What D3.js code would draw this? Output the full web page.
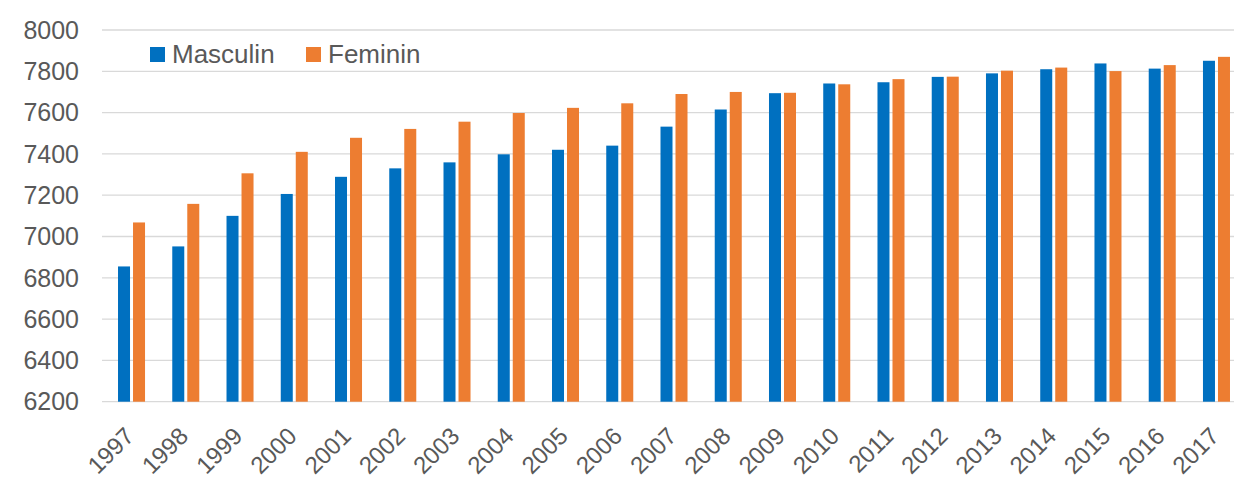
<!DOCTYPE html>
<html>
<head>
<meta charset="utf-8">
<script src="https://cdn.jsdelivr.net/npm/d3@7"></script>
<style>
  html, body { margin: 0; padding: 0; background: #fff; }
  svg { display: block; }
  text { font-family: "Liberation Sans", Arial, sans-serif; fill: #595959; }
</style>
</head>
<body>
<svg id="chart" width="1234" height="480"></svg>
<script>
const years = ["1997","1998","1999","2000","2001","2002","2003","2004","2005","2006","2007","2008","2009","2010","2011","2012","2013","2014","2015","2016","2017"];
const masculin = [6855, 6952, 7100, 7206, 7289, 7330, 7359, 7398, 7420, 7440, 7532, 7615, 7694, 7741, 7747, 7773, 7790, 7810, 7838, 7813, 7851];
const feminin  = [7068, 7158, 7306, 7410, 7478, 7521, 7556, 7598, 7623, 7645, 7690, 7700, 7696, 7737, 7762, 7774, 7803, 7818, 7801, 7830, 7870];
const seriesNames = ["Masculin", "Feminin"];
const seriesColors = ["#0070C0", "#ED7D31"];
const yTicks = [6200, 6400, 6600, 6800, 7000, 7200, 7400, 7600, 7800, 8000];

const svg = d3.select("#chart");
const plotLeft = 104.4, plotRight = 1243.6, plotTop = 30, plotBottom = 401.7;

const x0 = d3.scaleBand().domain(years).range([plotLeft, plotRight])
  .paddingInner(0.502).paddingOuter(0.251);
const x1 = d3.scaleBand().domain(seriesNames).range([0, x0.bandwidth()])
  .paddingInner(0.2).paddingOuter(0);
const y = d3.scaleLinear().domain([6200, 8000]).range([plotBottom, plotTop]);

// gridlines
svg.append("g").selectAll("line").data(yTicks).join("line")
  .attr("x1", 102).attr("x2", 1234)
  .attr("y1", d => y(d)).attr("y2", d => y(d))
  .attr("stroke", "#d9d9d9").attr("stroke-width", 1.3);

// y labels
svg.append("g").selectAll("text").data(yTicks).join("text")
  .attr("x", 79).attr("y", d => y(d)).attr("dy", "0.35em")
  .attr("text-anchor", "end").attr("font-size", 25)
  .text(d => d);

// bars
const data = years.map((yr, i) => ({ year: yr, values: [masculin[i], feminin[i]] }));
const groups = svg.append("g").selectAll("g").data(data).join("g")
  .attr("transform", d => `translate(${x0(d.year)},0)`);
groups.selectAll("rect").data(d => d.values.map((v, k) => ({ key: seriesNames[k], v, k })))
  .join("rect")
  .attr("x", d => x1(d.key))
  .attr("width", x1.bandwidth())
  .attr("y", d => y(d.v))
  .attr("height", d => y(6200) - y(d.v))
  .attr("fill", d => seriesColors[d.k]);

// x labels
svg.append("g").selectAll("text").data(years).join("text")
  .attr("text-anchor", "end").attr("font-size", 24)
  .attr("transform", d => `translate(${x0(d) + x0.bandwidth() / 2 - 8},${plotBottom + 24}) rotate(-45)`)
  .attr("dy", "0.7em")
  .text(d => d);

// legend
const legend = svg.append("g");
const legX = [150, 306];
seriesNames.forEach((name, i) => {
  legend.append("rect").attr("x", legX[i]).attr("y", 47).attr("width", 15).attr("height", 15)
    .attr("fill", seriesColors[i]);
  legend.append("text").attr("x", legX[i] + 22).attr("y", 63).attr("font-size", 26).text(name);
});
</script>
</body>
</html>
